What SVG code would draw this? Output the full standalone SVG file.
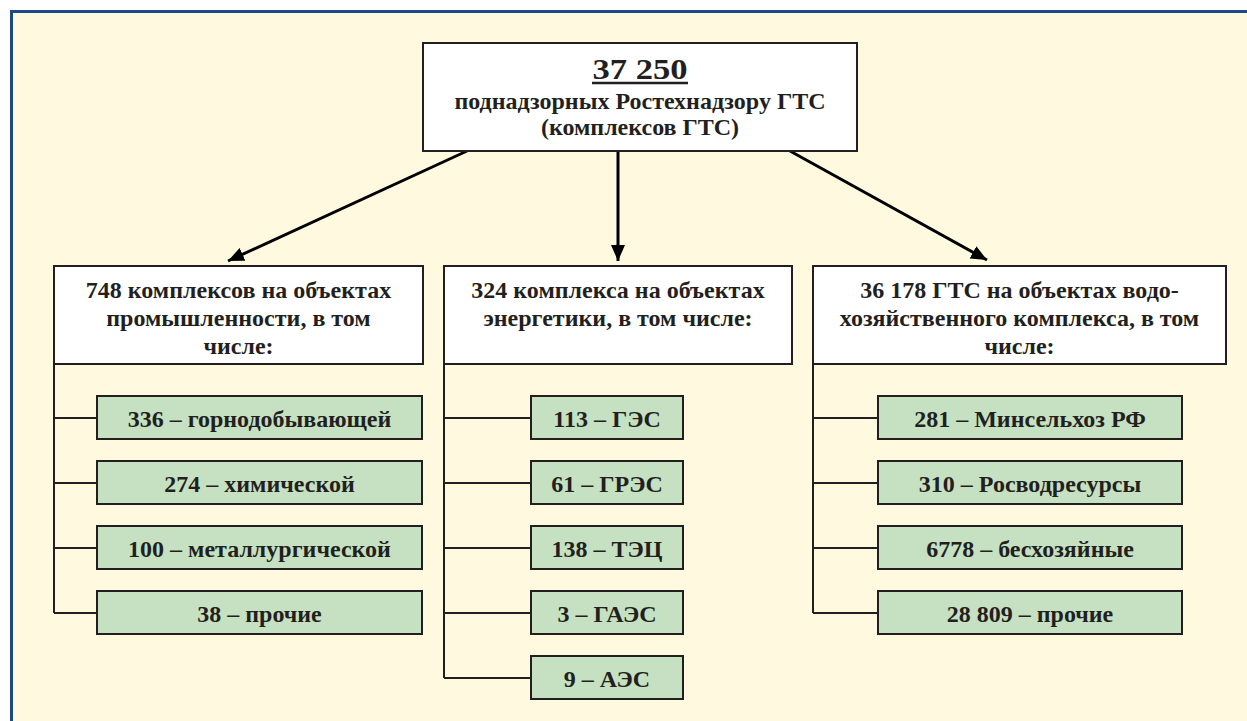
<svg xmlns="http://www.w3.org/2000/svg" width="1247" height="721" viewBox="0 0 1247 721">
<style>
.t{font-family:'Liberation Serif','Times New Roman','DejaVu Serif',serif;font-weight:bold;fill:#231f20;text-anchor:middle}
.m{font-size:24px}
.w{fill:#ffffff;stroke:#231f20;stroke-width:2}
.g{fill:#c5e1c1;stroke:#231f20;stroke-width:2}
.c{stroke:#231f20;stroke-width:2;fill:none}
.a{stroke:#000;stroke-width:3;fill:none;marker-end:url(#ah)}
</style>
<defs>
<marker id="ah" markerUnits="userSpaceOnUse" markerWidth="18" markerHeight="16" refX="16" refY="7" orient="auto">
<path d="M0,0 L16,7 L0,14 z" fill="#000"/>
</marker>
</defs>
<rect x="0" y="0" width="1247" height="721" fill="#ffffff"/>
<rect x="11.5" y="11.5" width="1250" height="720" fill="#fffadf" stroke="#1c4a85" stroke-width="3"/>

<g id="connectors">
<line class="a" x1="467" y1="151" x2="228" y2="261"/>
<line class="a" x1="618" y1="151" x2="618" y2="261"/>
<line class="a" x1="790" y1="151" x2="987" y2="260"/>
<path class="c" d="M54,364 V613 M54,418 H97 M54,483 H97 M54,548 H97 M54,613 H97"/>
<path class="c" d="M444,364 V678 M444,418 H531 M444,483 H531 M444,548 H531 M444,613 H531 M444,678 H531"/>
<path class="c" d="M813,364 V613 M813,418 H878 M813,483 H878 M813,548 H878 M813,613 H878"/>
</g>

<g id="root">
<rect class="w" x="423" y="43" width="434" height="108"/>
<text class="t" x="640" y="79" font-size="29" textLength="95" lengthAdjust="spacingAndGlyphs">37 250</text>
<line x1="592" y1="83" x2="688" y2="83" stroke="#231f20" stroke-width="2.5"/>
<text class="t m" x="640" y="109">поднадзорных Ростехнадзору ГТС</text>
<text class="t m" x="640" y="135">(комплексов ГТС)</text>
</g>

<g id="industry">
<rect class="w" x="54" y="266" width="369" height="98"/>
<text class="t m" x="238.5" y="298">748 комплексов на объектах</text>
<text class="t m" x="238.5" y="326">промышленности, в том</text>
<text class="t m" x="238.5" y="354">числе:</text>
</g>
<g id="energy">
<rect class="w" x="444" y="266" width="348" height="98"/>
<text class="t m" x="618" y="298">324 комплекса на объектах</text>
<text class="t m" x="618" y="326">энергетики, в том числе:</text>
</g>
<g id="water">
<rect class="w" x="813" y="266" width="413" height="98"/>
<text class="t m" x="1019.5" y="298">36 178 ГТС на объектах водо-</text>
<text class="t m" x="1019.5" y="326">хозяйственного комплекса, в том</text>
<text class="t m" x="1019.5" y="354">числе:</text>
</g>

<g id="i1"><rect class="g" x="97" y="396" width="325" height="43"/><text class="t m" x="259.5" y="427">336 – горнодобывающей</text></g>
<g id="i2"><rect class="g" x="97" y="461" width="325" height="43"/><text class="t m" x="259.5" y="492">274 – химической</text></g>
<g id="i3"><rect class="g" x="97" y="526" width="325" height="43"/><text class="t m" x="259.5" y="557">100 – металлургической</text></g>
<g id="i4"><rect class="g" x="97" y="591" width="325" height="43"/><text class="t m" x="259.5" y="622">38 – прочие</text></g>

<g id="e1"><rect class="g" x="531" y="396" width="152" height="43"/><text class="t m" x="607" y="427">113 – ГЭС</text></g>
<g id="e2"><rect class="g" x="531" y="461" width="152" height="43"/><text class="t m" x="607" y="492">61 – ГРЭС</text></g>
<g id="e3"><rect class="g" x="531" y="526" width="152" height="43"/><text class="t m" x="607" y="557">138 – ТЭЦ</text></g>
<g id="e4"><rect class="g" x="531" y="591" width="152" height="43"/><text class="t m" x="607" y="622">3 – ГАЭС</text></g>
<g id="e5"><rect class="g" x="531" y="656" width="152" height="43"/><text class="t m" x="607" y="687">9 – АЭС</text></g>

<g id="w1"><rect class="g" x="878" y="396" width="304" height="43"/><text class="t m" x="1030" y="427">281 – Минсельхоз РФ</text></g>
<g id="w2"><rect class="g" x="878" y="461" width="304" height="43"/><text class="t m" x="1030" y="492">310 – Росводресурсы</text></g>
<g id="w3"><rect class="g" x="878" y="526" width="304" height="43"/><text class="t m" x="1030" y="557">6778 – бесхозяйные</text></g>
<g id="w4"><rect class="g" x="878" y="591" width="304" height="43"/><text class="t m" x="1030" y="622">28 809 – прочие</text></g>
</svg>
